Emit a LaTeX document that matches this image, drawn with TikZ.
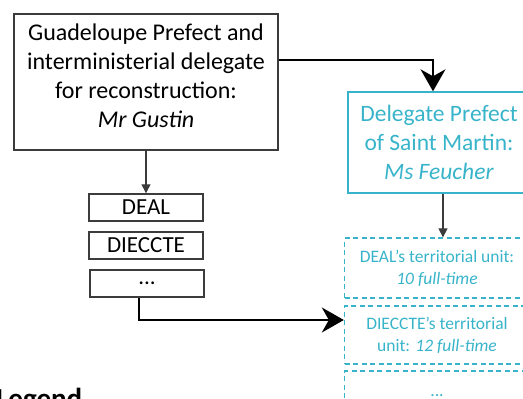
\documentclass[tikz,border=0pt]{standalone}
\usepackage{fontspec}
\setmainfont{Carlito}
\usetikzlibrary{arrows.meta}
\definecolor{sxmcyan}{RGB}{56,180,202}
\definecolor{boxgrey}{RGB}{60,60,60}

\begin{document}
\begin{tikzpicture}[x=1pt, y=-1pt,
    greybox/.style={draw=boxgrey, line width=1.4pt, align=center, inner sep=0pt},
    cyanbox/.style={draw=sxmcyan, line width=1.4pt, align=center, inner sep=0pt, text=sxmcyan},
    unitbox/.style={draw=sxmcyan, line width=1.3pt, dash pattern=on 5pt off 3.5pt, align=center, inner sep=0pt, text=sxmcyan,
        minimum width=185pt, font=\fontsize{17.5}{22}\selectfont},
    smallarrow/.style={-{Triangle[length=9pt,width=9pt]}, line width=1.2pt, draw=boxgrey},
    bigarrow/.style={-{Stealth[length=22pt,width=25pt,inset=7pt]}, line width=1.8pt}]
    \useasboundingbox (0,0) rectangle (523,399);
    % left column
    \node[greybox, minimum width=264pt, minimum height=136pt, text depth=13pt, font=\fontsize{24}{29}\selectfont] (gustin) at (146,82)
        {Guadeloupe Prefect and\\interministerial delegate\\for reconstruction:\\\textit{Mr Gustin}};
    \node[greybox, minimum width=114pt, minimum height=27pt, font=\fontsize{23}{24}\selectfont] (deal) at (146,207.5) {DEAL};
    \node[greybox, minimum width=114pt, minimum height=27pt, font=\fontsize{23}{24}\selectfont] (dieccte) at (146,245.5) {DIECCTE};
    \node[greybox, minimum width=114pt, minimum height=27pt, font=\fontsize{23}{24}\selectfont] (dots) at (147,283.5) {...};
    % right column
    \node[cyanbox, minimum width=182pt, minimum height=101pt, font=\fontsize{23.5}{29}\selectfont] (feucher) at (439,142.5)
        {Delegate Prefect\\of Saint Martin:\\\textit{Ms Feucher}};
    \node[unitbox, minimum height=60pt] (dealunit) at (437,268) {DEAL's territorial unit:\\\textit{10 full-time}};
    \node[unitbox, minimum height=58pt] (diecctunit) at (437,335) {DIECCTE's territorial\\unit: \textit{12 full-time}};
    \node[unitbox, minimum height=50pt] (moreunit) at (437,396) {...};
    % legend
    \node[anchor=base west, font=\fontsize{29}{32}\selectfont\bfseries, inner sep=0pt] (legend) at (-4,408) {Legend};
    % connectors
    \draw[smallarrow] (gustin.south) -- (deal.north);
    \draw[smallarrow] ([xshift=4pt]feucher.south) -- ([xshift=6pt]dealunit.north);
    \draw[bigarrow, line width=1.5pt] ([yshift=22pt]gustin.east) -| ([xshift=-6pt]feucher.north);
    \draw[bigarrow] ([xshift=-8pt]dots.south) |- ([yshift=15pt]diecctunit.west);
\end{tikzpicture}
\end{document}
